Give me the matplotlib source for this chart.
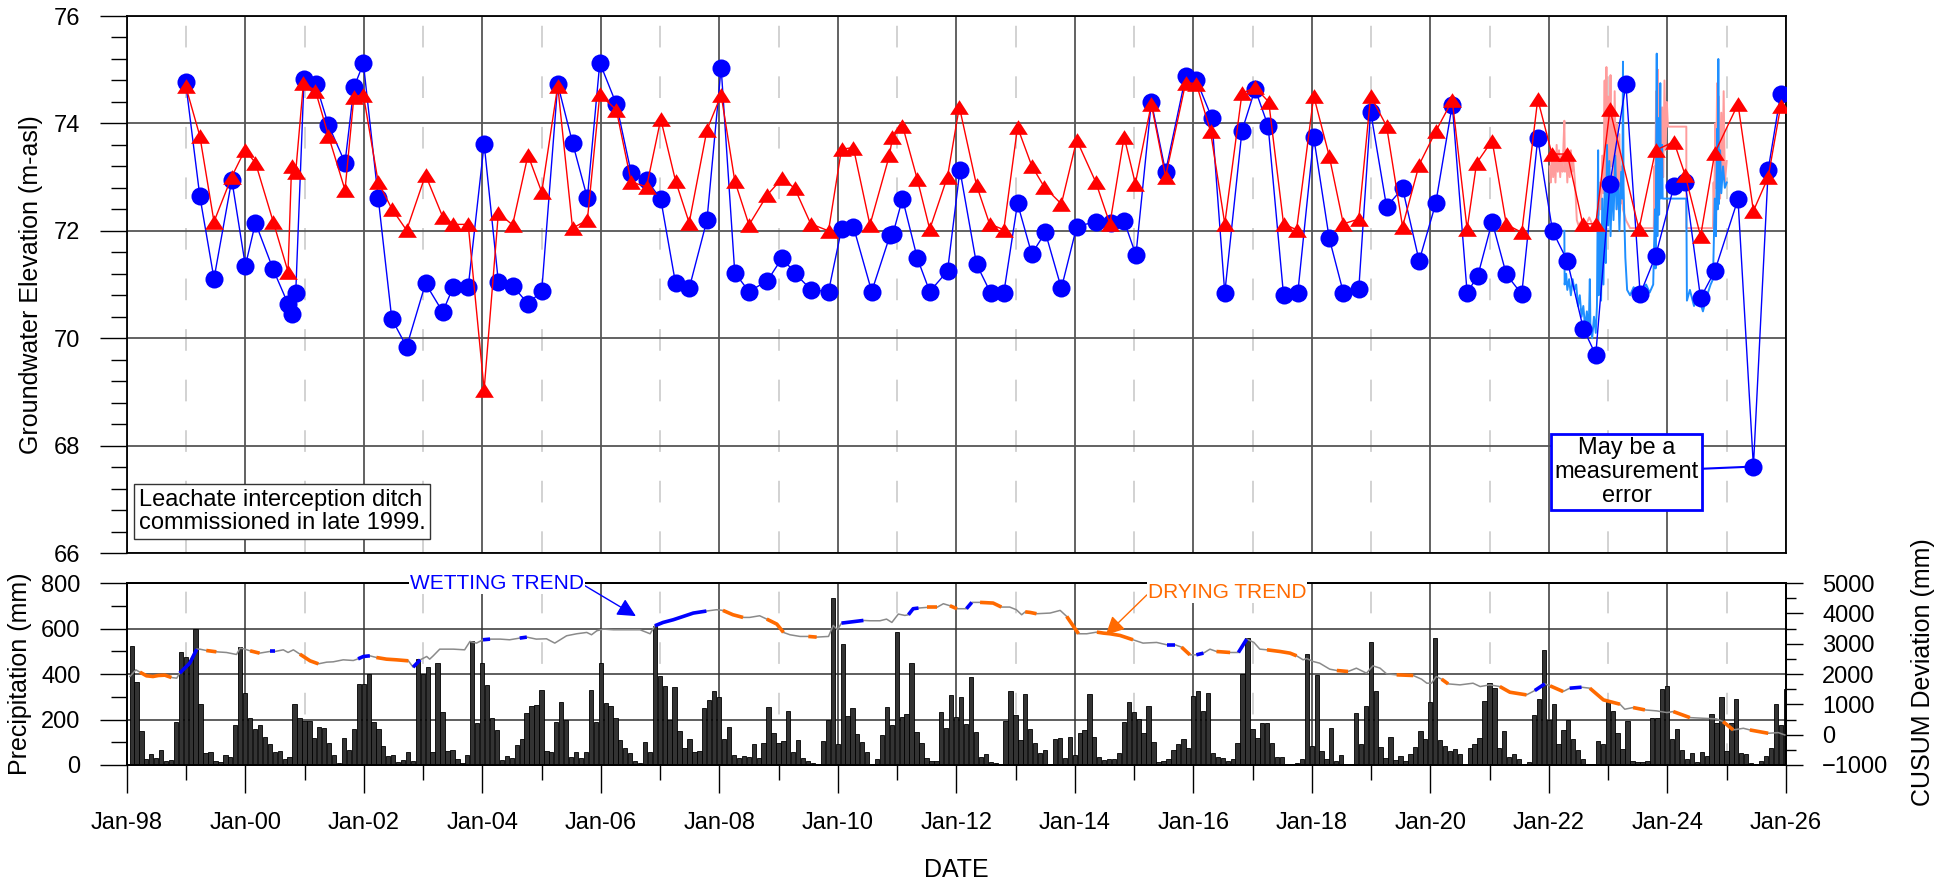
import matplotlib
matplotlib.use('Agg')
import matplotlib.pyplot as plt
import matplotlib.dates as mdates
from matplotlib.ticker import MultipleLocator
import numpy as np
import pandas as pd
from datetime import datetime, timedelta

plt.rcParams['font.family'] = ['Liberation Sans', 'DejaVu Sans']


def to_date(yrs):
    # decimal year -> datetime
    out = []
    for y in np.atleast_1d(yrs):
        y0 = int(np.floor(y))
        out.append(datetime(y0, 1, 1) + timedelta(days=(y - y0) * 365.25))
    return np.array(out)


# monitoring well, manual readings (m-asl)
well_a_year = [1998.99, 1999.23, 1999.47, 1999.77, 2000.00, 2000.17, 2000.47, 2000.72, 2000.78, 2000.85,
               2000.99, 2001.19, 2001.40, 2001.68, 2001.83, 2001.99, 2002.24, 2002.47, 2002.72, 2003.04,
               2003.33, 2003.51, 2003.76, 2004.03, 2004.27, 2004.51, 2004.77, 2005.00, 2005.27, 2005.52,
               2005.77, 2005.98, 2006.26, 2006.51, 2006.77, 2007.01, 2007.26, 2007.49, 2007.79, 2008.03,
               2008.26, 2008.50, 2008.81, 2009.06, 2009.27, 2009.55, 2009.84, 2010.06, 2010.26, 2010.57,
               2010.88, 2010.93, 2011.09, 2011.34, 2011.55, 2011.85, 2012.06, 2012.34, 2012.58, 2012.80,
               2013.03, 2013.27, 2013.50, 2013.77, 2014.03, 2014.35, 2014.61, 2014.83, 2015.03, 2015.29,
               2015.53, 2015.87, 2016.05, 2016.31, 2016.53, 2016.82, 2017.04, 2017.26, 2017.52, 2017.76,
               2018.03, 2018.29, 2018.53, 2018.79, 2018.99, 2019.26, 2019.53, 2019.81, 2020.09, 2020.37,
               2020.62, 2020.80, 2021.04, 2021.28, 2021.54, 2021.81, 2022.06, 2022.31, 2022.58, 2022.79,
               2023.03, 2023.30, 2023.54, 2023.80, 2024.11, 2024.30, 2024.56, 2024.80, 2025.19, 2025.45,
               2025.70, 2025.91]
well_a_elev = [74.77, 72.65, 71.11, 72.95, 71.35, 72.15, 71.28, 70.64, 70.46, 70.84,
               74.82, 74.73, 73.97, 73.27, 74.67, 75.12, 72.62, 70.36, 69.84, 71.02,
               70.49, 70.96, 70.95, 73.62, 71.05, 70.98, 70.64, 70.88, 74.73, 73.64,
               72.61, 75.13, 74.36, 73.08, 72.95, 72.59, 71.02, 70.93, 72.20, 75.04,
               71.22, 70.87, 71.07, 71.50, 71.21, 70.90, 70.87, 72.03, 72.08, 70.87,
               71.92, 71.95, 72.60, 71.49, 70.87, 71.25, 73.13, 71.38, 70.84, 70.84,
               72.51, 71.57, 71.97, 70.93, 72.08, 72.17, 72.15, 72.18, 71.55, 74.40,
               73.10, 74.88, 74.81, 74.11, 70.84, 73.86, 74.64, 73.95, 70.80, 70.84,
               73.74, 71.87, 70.85, 70.91, 74.22, 72.45, 72.79, 71.44, 72.51, 74.35,
               70.85, 71.16, 72.17, 71.19, 70.82, 73.72, 72.00, 71.44, 70.18, 69.69,
               72.88, 74.73, 70.82, 71.53, 72.83, 72.90, 70.75, 71.25, 72.59, 67.61,
               73.14, 74.55]

well_b_year = [1998.99, 1999.23, 1999.47, 1999.77, 1999.99, 2000.17, 2000.47, 2000.72, 2000.78, 2000.85,
               2000.98, 2001.18, 2001.40, 2001.68, 2001.83, 2001.99, 2002.24, 2002.47, 2002.72, 2003.04,
               2003.33, 2003.51, 2003.76, 2004.03, 2004.27, 2004.51, 2004.77, 2005.00, 2005.27, 2005.52,
               2005.77, 2005.98, 2006.26, 2006.51, 2006.77, 2007.01, 2007.26, 2007.49, 2007.79, 2008.03,
               2008.26, 2008.50, 2008.81, 2009.06, 2009.27, 2009.54, 2009.84, 2010.06, 2010.26, 2010.54,
               2010.87, 2010.92, 2011.09, 2011.34, 2011.55, 2011.85, 2012.05, 2012.34, 2012.56, 2012.80,
               2013.03, 2013.27, 2013.48, 2013.77, 2014.03, 2014.35, 2014.59, 2014.83, 2015.02, 2015.29,
               2015.53, 2015.87, 2016.05, 2016.29, 2016.53, 2016.82, 2017.04, 2017.27, 2017.52, 2017.74,
               2018.03, 2018.29, 2018.53, 2018.79, 2018.99, 2019.26, 2019.53, 2019.81, 2020.09, 2020.37,
               2020.62, 2020.78, 2021.04, 2021.28, 2021.54, 2021.81, 2022.05, 2022.31, 2022.57, 2022.79,
               2023.03, 2023.52, 2023.80, 2024.11, 2024.30, 2024.56, 2024.80, 2025.19, 2025.45, 2025.70,
               2025.91]
well_b_elev = [74.70, 73.77, 72.17, 73.01, 73.50, 73.27, 72.17, 71.24, 73.21, 73.10,
               74.75, 74.61, 73.77, 72.76, 74.50, 74.53, 72.91, 72.41, 72.01, 73.04,
               72.26, 72.12, 72.12, 69.04, 72.33, 72.11, 73.41, 72.72, 74.70, 72.05,
               72.20, 74.54, 74.25, 72.91, 72.82, 74.08, 72.93, 72.15, 73.88, 74.53,
               72.93, 72.11, 72.67, 72.98, 72.79, 72.13, 72.00, 73.52, 73.55, 72.11,
               73.41, 73.74, 73.96, 72.96, 72.03, 73.01, 74.31, 72.85, 72.13, 72.02,
               73.93, 73.21, 72.82, 72.50, 73.69, 72.91, 72.13, 73.75, 72.88, 74.36,
               73.01, 74.76, 74.74, 73.85, 72.13, 74.56, 74.67, 74.40, 72.13, 72.02,
               74.51, 73.40, 72.13, 72.22, 74.51, 73.95, 72.08, 73.23, 73.85, 74.43,
               72.03, 73.26, 73.68, 72.12, 71.97, 74.45, 73.43, 73.43, 72.13, 72.13,
               74.26, 72.03, 73.50, 73.66, 73.04, 71.90, 73.45, 74.36, 72.37, 73.00,
               74.32]

# datalogger traces
logger_a_year = [2022.26, 2022.265, 2022.29, 2022.31, 2022.34, 2022.37, 2022.40, 2022.43, 2022.46, 2022.49,
                 2022.52, 2022.55, 2022.58, 2022.61, 2022.64, 2022.67, 2022.69, 2022.70, 2022.73, 2022.76,
                 2022.79, 2022.81, 2022.83, 2022.84, 2022.86, 2022.88, 2022.90, 2022.92, 2022.94, 2022.96,
                 2022.98, 2023.00, 2023.02, 2023.04, 2023.07, 2023.09, 2023.12, 2023.14, 2023.17, 2023.19,
                 2023.22, 2023.24, 2023.25, 2023.26, 2023.29, 2023.32, 2023.37, 2023.43, 2023.50, 2023.57,
                 2023.64, 2023.70, 2023.76, 2023.79, 2023.80, 2023.82, 2023.83, 2023.85, 2023.86, 2023.88,
                 2023.89, 2023.91, 2023.92, 2024.32, 2024.33, 2024.38, 2024.45, 2024.52, 2024.60, 2024.67,
                 2024.73, 2024.77, 2024.80, 2024.82, 2024.84, 2024.85, 2024.86, 2024.87, 2024.89, 2024.91,
                 2024.94, 2024.97, 2025.00]
logger_a_elev = [72.0, 71.0, 71.2, 70.9, 71.1, 70.8, 71.1, 70.9, 71.0, 70.6,
                 70.8, 70.4, 70.6, 70.2, 70.5, 70.1, 71.1, 70.2, 70.0, 70.4,
                 70.1, 70.6, 73.5, 70.8, 72.0, 70.7, 72.6, 71.0, 72.8, 71.4,
                 73.6, 72.1, 73.3, 71.9, 73.0, 72.2, 73.4, 72.4, 72.9, 72.0,
                 73.1, 72.6, 75.15, 72.8, 71.5, 70.9, 70.8, 70.95, 70.85, 70.9,
                 71.0, 70.85, 71.0, 72.4, 71.3, 75.3, 71.9, 74.1, 72.3, 74.75,
                 72.6, 73.6, 72.6, 72.6, 70.7, 70.9, 70.6, 70.8, 70.5, 70.8,
                 71.0, 71.1, 72.6, 71.9, 73.9, 72.4, 75.2, 72.5, 73.5, 72.7,
                 73.2, 72.8, 72.9]

logger_b_year = [2022.01, 2022.03, 2022.05, 2022.07, 2022.09, 2022.11, 2022.13, 2022.15, 2022.17, 2022.19,
                 2022.21, 2022.23, 2022.245, 2022.26, 2022.27, 2022.29, 2022.31, 2022.33, 2022.35, 2022.37,
                 2022.39, 2022.41, 2022.44, 2022.47, 2022.50, 2022.56, 2022.62, 2022.68, 2022.74, 2022.80,
                 2022.84, 2022.86, 2022.88, 2022.90, 2022.92, 2022.94, 2022.95, 2022.97, 2022.98, 2023.00,
                 2023.02, 2023.04, 2023.05, 2023.07, 2023.09, 2023.11, 2023.13, 2023.15, 2023.17, 2023.19,
                 2023.21, 2023.23, 2023.25, 2023.30, 2023.37, 2023.77, 2023.78, 2023.79, 2023.81, 2023.82,
                 2023.84, 2023.85, 2023.87, 2023.89, 2023.91, 2023.93, 2023.95, 2023.97, 2023.99, 2024.01,
                 2024.32, 2024.321, 2024.77, 2024.78, 2024.79, 2024.81, 2024.82, 2024.84, 2024.85, 2024.87,
                 2024.89, 2024.91, 2024.93, 2024.95, 2024.97, 2025.00]
logger_b_elev = [73.2, 72.9, 73.5, 73.0, 73.4, 72.9, 73.6, 73.1, 73.5, 73.0,
                 73.4, 73.1, 73.6, 74.05, 73.1, 73.5, 72.9, 73.4, 73.0, 73.5,
                 73.1, 73.3, 72.9, 72.2, 72.1, 72.2, 72.1, 72.25, 72.1, 72.2,
                 72.3, 72.9, 72.4, 73.4, 72.7, 74.8, 73.0, 75.05, 73.5, 74.5,
                 72.8, 74.9, 73.2, 74.2, 72.6, 74.6, 73.0, 74.0, 72.4, 73.8,
                 72.5, 73.2, 72.4, 72.2, 72.05, 72.05, 73.2, 72.5, 74.6, 72.9,
                 75.0, 73.3, 74.7, 73.2, 74.3, 73.0, 74.8, 73.5, 74.4, 73.94,
                 73.94, 72.05, 72.05, 72.9, 72.4, 74.0, 72.8, 74.75, 73.1, 74.5,
                 72.6, 74.2, 73.0, 74.6, 72.9, 73.3]

# monthly precipitation (mm), Jan-1998 .. Dec-2025
precip_mm = [
    521, 366, 148, 25, 47, 29, 66, 18, 21, 189, 496, 477,   # 1998
    460, 600, 267, 54, 59, 18, 13, 43, 37, 176, 518, 318,   # 1999
    206, 159, 178, 123, 91, 59, 62, 25, 34, 267, 208, 194,  # 2000
    194, 120, 169, 163, 95, 43, 10, 120, 66, 157, 357, 357, # 2001
    400, 188, 157, 85, 40, 43, 13, 22, 56, 18, 467, 400,    # 2002
    429, 56, 449, 232, 62, 65, 25, 10, 43, 543, 183, 448,   # 2003
    352, 208, 154, 21, 40, 29, 90, 114, 228, 261, 264, 330, # 2004
    60, 59, 188, 279, 198, 37, 56, 32, 56, 330, 188, 448,   # 2005
    272, 261, 205, 110, 73, 51, 18, 7, 103, 59, 609, 390,   # 2006
    348, 198, 342, 150, 73, 114, 56, 62, 250, 286, 326, 300,# 2007
    113, 169, 44, 29, 41, 37, 94, 29, 97, 254, 139, 95,     # 2008
    106, 239, 56, 110, 29, 18, 10, 4, 107, 198, 734, 92,    # 2009
    533, 217, 250, 137, 100, 59, 4, 26, 132, 254, 178, 584, # 2010
    211, 226, 448, 144, 98, 32, 18, 16, 233, 161, 307, 213, # 2011
    301, 179, 388, 147, 37, 47, 13, 10, 4, 194, 327, 219,   # 2012
    110, 311, 160, 98, 54, 66, 4, 114, 120, 31, 125, 44,    # 2013
    139, 154, 311, 122, 37, 22, 28, 26, 54, 188, 277, 232,  # 2014
    204, 139, 261, 101, 15, 18, 26, 68, 92, 113, 73, 302,   # 2015
    327, 239, 316, 53, 37, 29, 18, 26, 95, 400, 558, 157,   # 2016
    117, 186, 186, 97, 35, 35, 4, 4, 7, 26, 487, 85,        # 2017
    396, 60, 28, 161, 18, 44, 6, 6, 230, 94, 260, 540,      # 2018
    324, 78, 29, 125, 22, 38, 19, 47, 78, 148, 113, 276,    # 2019
    558, 110, 85, 60, 72, 50, 6, 73, 92, 119, 282, 360,     # 2020
    340, 76, 150, 37, 48, 28, 0, 15, 222, 289, 506, 200,    # 2021
    267, 92, 153, 197, 114, 66, 28, 6, 4, 107, 91, 276,     # 2022
    238, 141, 70, 194, 18, 12, 13, 18, 206, 208, 332, 346,  # 2023
    114, 160, 68, 26, 51, 13, 59, 41, 225, 183, 299, 62,    # 2024
    186, 291, 51, 48, 7, 4, 18, 40, 73, 267, 178, 333,      # 2025
]

# CUSUM of precipitation deviation (mm)
cusum_year = [1998.05, 1998.15, 1998.22, 1998.33, 1998.44, 1998.53, 1998.64, 1998.75, 1998.84, 1998.89,
              1999.06, 1999.18, 1999.23, 1999.34, 1999.51, 1999.68, 1999.85, 1999.91, 1999.99, 2000.08,
              2000.24, 2000.41, 2000.50, 2000.64, 2000.72, 2000.81, 2000.92, 2001.09, 2001.23, 2001.37,
              2001.48, 2001.65, 2001.82, 2001.90, 2001.99, 2002.10, 2002.21, 2002.38, 2002.55, 2002.75,
              2002.83, 2002.95, 2003.06, 2003.11, 2003.17, 2003.28, 2003.51, 2003.70, 2003.79, 2003.90,
              2004.01, 2004.13, 2004.30, 2004.46, 2004.63, 2004.75, 2004.91, 2005.08, 2005.22, 2005.42,
              2005.59, 2005.76, 2005.84, 2005.93, 2006.04, 2006.21, 2006.43, 2006.66, 2006.83, 2006.91,
              2007.05, 2007.22, 2007.39, 2007.56, 2007.78, 2007.95, 2008.06, 2008.23, 2008.40, 2008.51,
              2008.68, 2008.80, 2008.97, 2009.08, 2009.19, 2009.36, 2009.50, 2009.64, 2009.84, 2009.92,
              2009.99, 2010.06, 2010.20, 2010.43, 2010.54, 2010.71, 2010.82, 2010.91, 2011.02, 2011.13,
              2011.19, 2011.27, 2011.36, 2011.50, 2011.67, 2011.78, 2011.89, 2012.01, 2012.17, 2012.26,
              2012.40, 2012.62, 2012.76, 2012.90, 2013.01, 2013.10, 2013.16, 2013.24, 2013.35, 2013.58,
              2013.75, 2013.86, 2014.06, 2014.20, 2014.37, 2014.48, 2014.59, 2014.76, 2014.98, 2015.15,
              2015.38, 2015.55, 2015.69, 2015.80, 2015.94, 2016.05, 2016.17, 2016.28, 2016.39, 2016.62,
              2016.76, 2016.90, 2017.02, 2017.12, 2017.24, 2017.46, 2017.63, 2017.74, 2017.85, 2017.91,
              2018.02, 2018.13, 2018.30, 2018.42, 2018.61, 2018.75, 2018.92, 2019.03, 2019.15, 2019.26,
              2019.43, 2019.71, 2019.85, 2019.94, 2020.02, 2020.10, 2020.19, 2020.30, 2020.50, 2020.72,
              2020.84, 2021.00, 2021.17, 2021.34, 2021.62, 2021.76, 2021.93, 2022.02, 2022.24, 2022.35,
              2022.55, 2022.69, 2022.92, 2023.20, 2023.28, 2023.42, 2023.62, 2023.82, 2023.99, 2024.10,
              2024.38, 2024.61, 2024.83, 2024.94, 2025.11, 2025.28, 2025.39, 2025.70, 2025.87, 2025.98]
cusum_val = [1918, 2138, 2061, 1940, 1918, 1951, 1962, 1885, 1863, 2028,
             2358, 2820, 2820, 2776, 2732, 2710, 2644, 2854, 2820, 2765,
             2688, 2743, 2743, 2798, 2710, 2798, 2655, 2435, 2336, 2391,
             2402, 2468, 2446, 2500, 2578, 2600, 2545, 2490, 2468, 2435,
             2226, 2468, 2578, 2490, 2600, 2820, 2820, 2798, 3074, 3019,
             3129, 3151, 3151, 3129, 3184, 3217, 3151, 3162, 3019, 3261,
             3327, 3371, 3294, 3426, 3481, 3459, 3459, 3459, 3327, 3591,
             3701, 3789, 3899, 4010, 4076, 4120, 4098, 3954, 3866, 3866,
             3921, 3811, 3646, 3371, 3294, 3239, 3239, 3217, 3239, 3602,
             3459, 3679, 3712, 3767, 3756, 3756, 3811, 3701, 3977, 3932,
             3954, 4153, 4175, 4197, 4197, 4318, 4252, 4153, 4153, 4362,
             4362, 4340, 4208, 4208, 4120, 3954, 4050, 4032, 3988, 4010,
             4098, 3899, 3327, 3327, 3382, 3349, 3327, 3272, 3129, 3019,
             3041, 2964, 2964, 2886, 2633, 2633, 2688, 2820, 2743, 2710,
             2710, 3151, 3041, 2820, 2798, 2743, 2688, 2600, 2468, 2512,
             2413, 2358, 2160, 2116, 2083, 2193, 2028, 2270, 2193, 2006,
             1973, 1951, 1830, 1697, 1697, 1918, 1830, 1675, 1642, 1697,
             1587, 1642, 1587, 1400, 1312, 1455, 1675, 1609, 1422, 1532,
             1565, 1532, 1147, 1004, 839, 894, 817, 784, 729, 762,
             563, 541, 519, 431, 156, 211, 156, 46, 68, -9]

wetting_periods = [(1998.89, 1999.18), (2000.41, 2000.50), (2001.90, 2002.10), (2002.83, 2002.95),
                   (2004.01, 2004.13), (2004.63, 2004.75), (2006.91, 2007.78), (2010.06, 2010.43),
                   (2011.19, 2011.36), (2012.17, 2012.26), (2015.55, 2015.69), (2016.05, 2016.17),
                   (2016.76, 2016.90), (2021.76, 2021.93), (2022.35, 2022.55)]
drying_periods = [(1998.22, 1998.75), (1999.34, 1999.51), (2000.08, 2000.24), (2000.92, 2001.23),
                  (2002.21, 2002.75), (2008.06, 2008.40), (2008.80, 2009.08), (2009.50, 2009.64),
                  (2011.50, 2011.67), (2011.89, 2012.01), (2012.40, 2012.76), (2013.16, 2013.35),
                  (2013.86, 2014.06), (2014.37, 2014.98), (2015.80, 2015.94), (2016.39, 2016.62),
                  (2017.24, 2017.74), (2018.42, 2018.61), (2019.43, 2019.71), (2020.19, 2020.30),
                  (2021.17, 2021.62), (2022.02, 2022.24), (2022.69, 2023.20), (2023.42, 2023.62),
                  (2024.10, 2024.38), (2024.94, 2025.11), (2025.39, 2025.70)]

BLUE = '#0000FF'
RED = '#FF0000'
ORANGE = '#FF6A00'
FS_TICK = 17
FS_LABEL = 18

# slightly flattened up-triangle marker
TRI = [(0, 0.78), (-1, -0.78), (1, -0.78), (0, 0.78)]

fig = plt.figure(figsize=(19.44, 8.85), dpi=100)
ax1 = fig.add_axes([0.0653, 0.3751, 0.8534, 0.6068])
ax2 = fig.add_axes([0.0653, 0.1356, 0.8534, 0.2056])

x0, x1 = datetime(1998, 1, 1), datetime(2026, 1, 1)

# ---- groundwater elevations ----
ax1.plot(to_date(logger_b_year), logger_b_elev, color='#FF9C9C', lw=1.4, zorder=2)
ax1.plot(to_date(logger_a_year), logger_a_elev, color='#1E8FFF', lw=1.4, zorder=2.2)
ax1.plot(to_date(well_a_year), well_a_elev, '-o', color=BLUE, lw=1.0, ms=13, mew=0, zorder=4)
ax1.plot(to_date(well_b_year), well_b_elev, '-', marker=TRI, color=RED, lw=1.0, ms=13.5, mew=0,
         zorder=5)

ax1.set_xlim(x0, x1)
ax1.set_ylim(66, 76)
ax1.yaxis.set_major_locator(MultipleLocator(2))
ax1.yaxis.set_minor_locator(MultipleLocator(0.4))
ax1.xaxis.set_major_locator(mdates.YearLocator(2))
ax1.xaxis.set_minor_locator(mdates.YearLocator(1))
ax1.grid(which='major', color='#555555', lw=1.3)
ax1.grid(which='minor', axis='x', color='#cfcfcf', lw=1.3, ls=(0, (12, 16)))
ax1.tick_params(axis='y', which='major', length=19.5, width=1, labelsize=FS_TICK, pad=14)
ax1.tick_params(axis='y', which='minor', length=11.5, width=1)
ax1.tick_params(axis='x', which='both', length=0, labelbottom=False)
for s in ax1.spines.values():
    s.set_linewidth(1.3)

ax1.text(0.0072, 0.035, 'Leachate interception ditch\ncommissioned in late 1999.',
         transform=ax1.transAxes, ha='left', va='bottom', fontsize=17, linespacing=1.1,
         bbox=dict(boxstyle='square,pad=0.2', fc='white', ec='#333333', lw=1.0), zorder=6)

ax1.annotate('May be a\nmeasurement\nerror', xy=(to_date(2025.45)[0], 67.61),
             xytext=(to_date(2023.31)[0], 67.51), ha='center', va='center',
             fontsize=17, linespacing=1.1,
             bbox=dict(boxstyle='square,pad=0.15', fc='white', ec=BLUE, lw=2),
             arrowprops=dict(arrowstyle='-', color=BLUE, lw=1.5, shrinkA=0, shrinkB=0),
             zorder=6)

# ---- precipitation and CUSUM ----
months = pd.date_range('1998-01-31', periods=len(precip_mm), freq='ME')
ax2.bar(months, precip_mm, width=27, color='#333333', edgecolor='black', lw=0.6, zorder=2)
ax2.set_axisbelow(True)
ax2.set_xlim(x0, x1)
ax2.set_ylim(0, 800)
ax2.yaxis.set_major_locator(MultipleLocator(200))
ax2.yaxis.set_minor_locator(MultipleLocator(100))
ax2.xaxis.set_major_locator(mdates.YearLocator(2))
ax2.xaxis.set_minor_locator(mdates.YearLocator(1))
ax2.xaxis.set_major_formatter(mdates.DateFormatter('Jan-%y'))
ax2.grid(which='major', color='#333333', lw=1.1)
ax2.grid(which='minor', axis='x', color='#cfcfcf', lw=1.3, ls=(0, (12, 16)))
ax2.tick_params(axis='y', which='major', length=19.5, width=1, labelsize=FS_TICK, pad=14)
ax2.tick_params(axis='y', which='minor', length=11.5, width=1)
ax2.tick_params(axis='x', which='major', length=20, width=1, labelsize=FS_TICK, pad=14)
ax2.tick_params(axis='x', which='minor', length=11, width=1)
for s in ax2.spines.values():
    s.set_linewidth(1.3)

ax3 = ax2.twinx()
ax3.set_ylim(-1000, 5000)
ax3.yaxis.set_major_locator(MultipleLocator(1000))
ax3.yaxis.set_minor_locator(MultipleLocator(500))
ax3.tick_params(axis='y', which='major', length=12, width=1, labelsize=FS_TICK, pad=14)
ax3.tick_params(axis='y', which='minor', length=7, width=1)
for s in ax3.spines.values():
    s.set_linewidth(1.3)

cus_t = np.array(cusum_year)
cus_v = np.array(cusum_val)
cus_d = to_date(cus_t)
ax3.plot(cus_d, cus_v, color='#8a8a8a', lw=1.1, zorder=3)
for periods, col in ((wetting_periods, BLUE), (drying_periods, ORANGE)):
    for a, b in periods:
        m = (cus_t >= a - 1e-6) & (cus_t <= b + 1e-6)
        ax3.plot(cus_d[m], cus_v[m], color=col, lw=2.6, solid_capstyle='butt', zorder=4)

ax3.annotate('WETTING TREND', xy=(to_date(2006.59)[0], 3910), xytext=(to_date(2004.24)[0], 5000),
             color=BLUE, fontsize=15, ha='center', va='center', annotation_clip=False,
             bbox=dict(boxstyle='square,pad=0.05', fc='white', ec='none'),
             arrowprops=dict(arrowstyle='-|>', color=BLUE, lw=1.0, mutation_scale=28,
                             relpos=(1.0, 0.4), shrinkA=0, shrinkB=0), zorder=7)
ax3.annotate('DRYING TREND', xy=(to_date(2014.52)[0], 3286), xytext=(to_date(2016.57)[0], 4704),
             color=ORANGE, fontsize=15, ha='center', va='center', annotation_clip=False,
             bbox=dict(boxstyle='square,pad=0.05', fc='white', ec='none'),
             arrowprops=dict(arrowstyle='-|>', color=ORANGE, lw=1.0, mutation_scale=28,
                             relpos=(0.0, 0.4), shrinkA=0, shrinkB=0), zorder=7)

# axis titles
fig.text(0.0159, 0.678, 'Groundwater Elevation (m-asl)', rotation=90, ha='center', va='center',
         fontsize=FS_LABEL)
fig.text(0.0103, 0.2384, 'Precipitation (mm)', rotation=90, ha='center', va='center',
         fontsize=FS_LABEL)
fig.text(0.9892, 0.2407, 'CUSUM Deviation (mm)', rotation=90, ha='center', va='center',
         fontsize=FS_LABEL)
fig.text(0.492, 0.017, 'DATE', ha='center', va='center', fontsize=FS_LABEL)

fig.savefig('out.png', dpi=100)
